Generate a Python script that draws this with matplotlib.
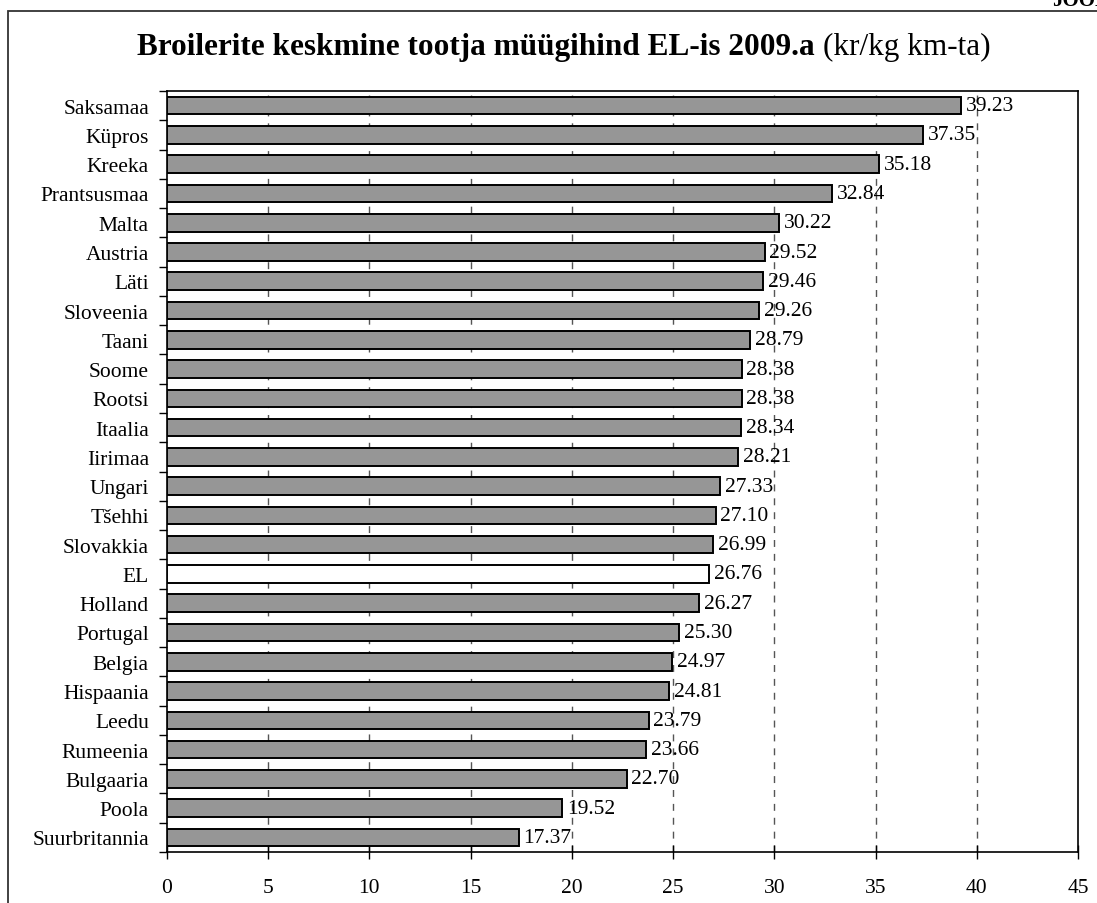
import matplotlib
matplotlib.use('Agg')
import matplotlib.pyplot as plt
from matplotlib.patches import Rectangle
import numpy as np

plt.rcParams['font.family'] = ['Liberation Serif', 'DejaVu Serif']

# data, top to bottom as in the chart
countries = ['Saksamaa', 'Küpros', 'Kreeka', 'Prantsusmaa', 'Malta', 'Austria', 'Läti',
             'Sloveenia', 'Taani', 'Soome', 'Rootsi', 'Itaalia', 'Iirimaa', 'Ungari',
             'Tšehhi', 'Slovakkia', 'EL', 'Holland', 'Portugal', 'Belgia', 'Hispaania',
             'Leedu', 'Rumeenia', 'Bulgaaria', 'Poola', 'Suurbritannia']
prices = [39.23, 37.35, 35.18, 32.84, 30.22, 29.52, 29.46, 29.26, 28.79, 28.38, 28.38,
          28.34, 28.21, 27.33, 27.10, 26.99, 26.76, 26.27, 25.30, 24.97, 24.81, 23.79,
          23.66, 22.70, 19.52, 17.37]
xticks = [0, 5, 10, 15, 20, 25, 30, 35, 40, 45]

fig = plt.figure(figsize=(10.97, 9.04), dpi=100)
ax = fig.add_axes([0.1522, 0.0564, 0.8305, 0.8418])

# outer frame (cut by image edge on right and bottom)
fig.patches.append(Rectangle((8 / 1097, -0.02), 1.05, 1 - 12 / 904 + 0.02,
                             transform=fig.transFigure, fill=False,
                             edgecolor='#333333', linewidth=1.3))

y = np.arange(len(countries))
colors = ['white' if c == 'EL' else '#969696' for c in countries]
ax.barh(y, prices, height=0.6, color=colors, edgecolor='black', linewidth=1.4, zorder=3)

for yi, v in zip(y, prices):
    ax.annotate('%.2f' % v, (v, yi), xytext=(3.5, 0), textcoords='offset points',
                va='center', ha='left', fontsize=15.5, zorder=4)

ax.set_ylim(len(countries) - 0.5, -0.5)
ax.set_xlim(0, 45)
ax.set_xticks(xticks)
ax.set_xticklabels([str(t) for t in xticks], fontsize=15.5)
ax.set_yticks(y)
ax.set_yticklabels(countries, fontsize=15.5)
ax.set_yticks(np.arange(len(countries) + 1) - 0.5, minor=True)
ax.tick_params(axis='y', which='major', length=0, pad=13)
ax.tick_params(axis='y', which='minor', length=6, direction='out', width=1)
ax.tick_params(axis='x', length=10, direction='inout', width=1, pad=14)

for t in xticks[1:-1]:
    ax.axvline(t, color='#555555', linestyle=(0, (5, 5)), linewidth=1, zorder=1)

for s in ax.spines.values():
    s.set_linewidth(1.2)
    s.set_color('black')

t1 = fig.text(137 / 1097, 0.948, 'Broilerite keskmine tootja müügihind EL-is 2009.a',
              fontsize=22.5, fontweight='bold', va='center', ha='left')
fig.canvas.draw()
bb = t1.get_window_extent()
fig.text((bb.x1 + 8) / fig.bbox.width, 0.948, '(kr/kg km-ta)', fontsize=22.5,
         va='center', ha='left')

fig.text(1052 / 1097, 1 - 6 / 904, 'JOONIS', fontsize=15, fontweight='bold',
         va='baseline', ha='left')

fig.savefig('out.png', dpi=100)
